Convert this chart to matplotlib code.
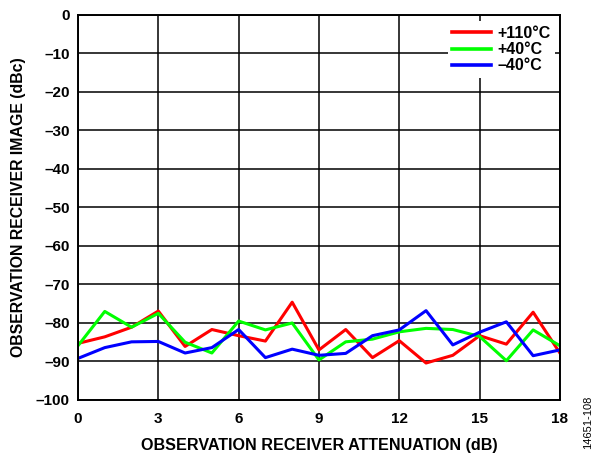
import matplotlib
matplotlib.use('Agg')
import matplotlib.pyplot as plt
import numpy as np

plt.rcParams['font.family'] = ['Liberation Sans', 'DejaVu Sans']
plt.rcParams['font.weight'] = 'bold'

# data
atten = np.arange(0, 19)
t_110 = [-85.3, -83.6, -81.1, -76.9, -86.1, -81.7, -83.3, -84.7, -74.6, -87.0,
         -81.7, -89.0, -84.6, -90.4, -88.4, -83.3, -85.5, -77.2, -87.8]
t_40 = [-85.9, -77.0, -81.1, -77.5, -85.0, -87.8, -79.5, -81.8, -80.0, -89.6,
        -84.9, -84.2, -82.3, -81.4, -81.7, -83.5, -89.8, -81.8, -85.9]
t_m40 = [-89.2, -86.4, -84.9, -84.8, -87.8, -86.4, -81.7, -89.0, -86.8, -88.4,
         -87.9, -83.3, -81.8, -76.8, -85.7, -82.4, -79.7, -88.5, -87.0]

fig = plt.figure(figsize=(5.95, 4.54), dpi=100)
ax = fig.add_axes([0.1311, 0.119, 0.8099, 0.848])

ax.plot(atten, t_110, color='#ff0000', lw=2.2, label='+110°C')
ax.plot(atten, t_40, color='#00ff00', lw=2.2, label='+40°C')
ax.plot(atten, t_m40, color='#0000ff', lw=2.2, label='–40°C')

ax.set_xlim(0, 18)
ax.set_ylim(-100, 0)
ax.set_xticks(range(0, 19, 3))
ax.set_yticks(range(-100, 1, 10))
ax.set_yticklabels([f'{v}'.replace('-', '–') for v in range(-100, 1, 10)])
ax.tick_params(labelsize=11, length=0)
ax.tick_params(axis='x', pad=9)
ax.tick_params(axis='y', pad=6)
for lab in ax.get_xticklabels() + ax.get_yticklabels():
    lab.set_fontweight('bold')

ax.grid(True, color='black', lw=1.1)
ax.set_axisbelow(True)
for s in ax.spines.values():
    s.set_linewidth(1.4)

ax.set_xlabel('OBSERVATION RECEIVER ATTENUATION (dB)', fontsize=11.6, fontweight='bold', labelpad=8)
ax.set_ylabel('OBSERVATION RECEIVER IMAGE (dBc)', fontsize=11.4, fontweight='bold', labelpad=7)

leg = ax.legend(loc='upper right', bbox_to_anchor=(0.99, 0.984), frameon=True, fontsize=11.5,
                handlelength=2.4, borderaxespad=0.0, borderpad=0.3, labelspacing=0.08,
                handletextpad=0.4, fancybox=False)
leg.get_frame().set_edgecolor('none')
leg.get_frame().set_facecolor('white')
leg.get_frame().set_alpha(1)
for t in leg.get_texts():
    t.set_fontweight('bold')
for h in leg.get_lines():
    h.set_linewidth(2.6)

fig.text(0.988, 0.07, '14651-108', rotation=90, fontsize=8, fontweight='normal',
         ha='center', va='center')

plt.savefig('out.png', dpi=100)
plt.close()
